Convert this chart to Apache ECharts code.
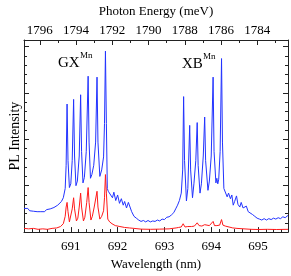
<!DOCTYPE html>
<html>
<head>
<meta charset="utf-8">
<script src="https://cdn.jsdelivr.net/npm/echarts@6/dist/echarts.min.js"></script>
<style>html,body{margin:0;padding:0;background:#fff;}#c{width:291px;height:276px;}</style>
</head>
<body>
<div id="c"></div>
<script>
// Wavelength range (nm)
const lambdaMin = 690.0;
const lambdaMax = 695.64;
const wavelengthTicks = [691, 692, 693, 694, 695];
const energyTicks = [1796, 1794, 1792, 1790, 1788, 1786, 1784];

// Blue trace (upper spectrum)
const blueWavelength = [
690.00,690.04,690.08,690.12,690.16,690.20,690.24,690.28,690.32,690.36,690.40,690.44,690.48,690.52,690.56,690.60,690.64,690.68,690.72,690.76,690.80,690.84,690.88,
690.90,690.92,690.94,690.97,691.00,691.03,691.06,691.08,691.11,691.14,691.18,691.21,691.23,691.26,691.29,691.33,691.37,691.39,691.42,691.45,691.49,691.53,691.56,691.58,691.62,691.66,691.70,691.72,691.74,691.76,691.78,
691.80,691.84,691.89,691.92,691.96,692.00,692.04,692.08,692.12,692.15,692.19,692.23,692.26,692.30,692.35,692.40,
692.45,692.50,692.55,692.60,692.65,692.70,692.75,692.80,692.85,692.90,692.95,693.00,693.05,
693.10,693.15,693.20,693.24,693.28,693.32,693.36,693.39,693.41,693.43,693.47,693.50,693.54,693.56,693.60,693.63,693.67,693.70,693.72,693.76,693.79,693.83,693.86,693.88,693.93,693.96,694.00,694.04,694.06,694.10,694.12,694.14,694.16,694.19,694.22,694.24,694.27,
694.30,694.34,694.37,694.41,694.44,694.47,694.50,694.54,694.57,694.61,694.64,694.68,694.71,694.75,694.79,694.83,694.88,694.93,694.98,695.03,695.08,695.13,695.18,695.23,695.28,695.33,695.38,695.43,695.48,695.53,695.58,695.64
];
const blueIntensity = [
2.85,2.65,2.85,2.6,2.8,2.55,2.75,2.5,2.7,2.5,2.7,2.5,2.72,2.55,2.8,2.65,2.95,2.85,3.2,3.3,3.6,4.0,5.0,
7.5,14.1,8.0,5.1,5.5,8.0,14.6,8.5,5.3,5.8,8.5,15.1,9.0,5.6,6.2,9.0,17.1,10.0,6.1,6.5,7.5,10.0,17.0,10.0,6.3,7.0,8.4,12.0,19.8,12.0,5.0,
4.7,4.9,4.0,4.6,3.7,4.3,3.4,3.9,3.2,3.6,2.9,3.5,3.6,2.5,2.0,1.8,
1.6,1.45,1.55,1.4,1.55,1.4,1.5,1.45,1.6,1.5,1.7,1.65,1.9,
1.95,2.15,2.4,2.8,3.2,3.7,4.5,7.0,14.9,8.0,3.65,5.0,11.8,7.0,4.0,5.5,8.0,12.1,7.5,4.5,5.5,8.5,12.7,8.0,4.8,5.8,8.5,17.0,9.0,5.6,6.1,5.5,6.0,9.0,19.0,10.0,5.0,
4.9,4.1,4.5,3.9,4.3,3.2,3.6,4.2,3.3,3.0,3.5,2.9,3.0,3.1,2.5,2.6,2.2,2.0,1.8,1.7,1.6,1.75,1.6,1.75,1.65,1.8,1.7,1.85,1.75,1.95,1.85,2.1
];

// Red trace (lower spectrum)
const redWavelength = [
690.00,690.10,690.20,690.30,690.40,690.50,690.60,690.70,690.78,690.84,690.88,690.90,690.92,690.94,690.97,691.00,691.03,691.06,691.08,691.12,691.15,691.18,691.21,691.23,691.27,691.30,691.34,691.37,691.39,691.43,691.46,691.50,691.56,691.58,691.62,691.66,691.70,691.72,691.74,691.76,691.79,691.83,691.88,691.95,692.05,692.15,692.25,692.35,
692.50,692.70,692.90,693.10,693.25,693.30,693.36,693.40,693.44,693.50,693.54,693.58,693.64,693.70,693.74,693.80,693.86,693.90,693.96,694.00,694.04,694.07,694.12,694.18,694.22,694.25,694.30,694.38,694.46,694.55,694.70,694.85,695.00,695.20,695.40,695.64
];
const redIntensity = [
0.7,0.65,0.7,0.6,0.65,0.6,0.7,0.75,0.9,1.2,2.0,3.0,3.5,2.5,1.4,1.6,2.8,4.0,2.8,1.5,1.8,3.0,4.5,3.0,1.5,1.9,3.5,5.1,3.5,1.6,2.0,3.0,4.7,3.0,1.7,2.0,2.6,4.0,6.5,4.5,1.7,1.4,1.2,1.0,0.9,0.8,0.75,0.7,
0.62,0.6,0.62,0.65,0.75,0.8,0.85,1.2,0.85,0.9,1.05,0.9,0.95,1.3,1.0,0.95,1.1,0.95,1.0,1.05,1.45,1.0,1.0,1.05,1.65,1.05,0.95,0.85,0.75,0.7,0.65,0.6,0.58,0.6,0.58,0.6
];

const HC = 1239841.98; // meV*nm
const eMax = HC / lambdaMin;
const eMin = HC / lambdaMax;

const blueData = blueWavelength.map((w, i) => [w, blueIntensity[i]]);
const redData = redWavelength.map((w, i) => [w, redIntensity[i]]);

const serif = '"Liberation Serif", "DejaVu Serif", serif';
const axisColor = '#222';

const chart = echarts.init(document.getElementById('c'), null, {renderer: 'canvas'});
chart.setOption({
  animation: false,
  backgroundColor: '#fff',
  grid: {left: 17, right: 1, top: 33, bottom: 36, containLabel: false},
  xAxis: [
    {
      type: 'value', position: 'bottom', min: lambdaMin, max: lambdaMax, interval: 1,
      name: 'Wavelength (nm)', nameLocation: 'middle', nameGap: 20,
      nameTextStyle: {fontFamily: serif, fontSize: 13, color: '#000'},
      axisLine: {show: true, onZero: false, lineStyle: {color: axisColor, width: 1}},
      axisTick: {show: true, inside: true, length: 5, lineStyle: {color: axisColor}},
      minorTick: {show: true, splitNumber: 6, length: 3, lineStyle: {color: axisColor}},
      splitLine: {show: false},
      axisLabel: {fontFamily: serif, fontSize: 13, color: '#000', margin: 8,
        formatter: v => wavelengthTicks.includes(Math.round(v * 1000) / 1000) ? String(v) : ''}
    },
    {
      type: 'value', position: 'top', inverse: true, min: eMin, max: eMax, splitNumber: 7,
      name: 'Photon Energy (meV)', nameLocation: 'middle', nameGap: 22,
      nameTextStyle: {fontFamily: serif, fontSize: 13, color: '#000'},
      axisLine: {show: true, onZero: false, lineStyle: {color: axisColor, width: 1}},
      axisTick: {show: true, inside: true, length: 5, lineStyle: {color: axisColor}},
      minorTick: {show: true, splitNumber: 2, length: 3, lineStyle: {color: axisColor}},
      splitLine: {show: false},
      axisLabel: {fontFamily: serif, fontSize: 13, color: '#000', margin: 3,
        formatter: v => { const r = Math.round(v); return (Math.abs(v - r) < 1e-6 && energyTicks.includes(r)) ? String(r) : ''; }}
    }
  ],
  yAxis: [
    {
      type: 'value', position: 'left', min: 0.3, max: 21, interval: 5,
      name: 'PL Intensity', nameLocation: 'middle', nameGap: 2,
      nameTextStyle: {fontFamily: serif, fontSize: 14, color: '#000'},
      axisLine: {show: true, onZero: false, lineStyle: {color: axisColor, width: 1}},
      axisTick: {show: true, inside: true, length: 5, lineStyle: {color: axisColor}},
      minorTick: {show: true, splitNumber: 5, length: 3, lineStyle: {color: axisColor}},
      splitLine: {show: false},
      axisLabel: {show: false}
    },
    {
      type: 'value', position: 'right', min: 0.3, max: 21, interval: 5,
      axisLine: {show: true, onZero: false, lineStyle: {color: axisColor, width: 1}},
      axisTick: {show: true, inside: true, length: 5, lineStyle: {color: axisColor}},
      minorTick: {show: true, splitNumber: 5, length: 3, lineStyle: {color: axisColor}},
      splitLine: {show: false},
      axisLabel: {show: false}
    }
  ],
  series: [
    {type: 'line', name: 'red', xAxisIndex: 0, yAxisIndex: 0, data: redData, showSymbol: false, symbol: 'none',
     lineStyle: {color: '#ff1a1a', width: 1}, z: 2},
    {type: 'line', name: 'blue', xAxisIndex: 0, yAxisIndex: 0, data: blueData, showSymbol: false, symbol: 'none',
     lineStyle: {color: '#2233ff', width: 1}, z: 3}
  ],
  graphic: [
    {type: 'text', left: 58, top: 56, style: {text: 'GX', font: '15px ' + serif, fill: '#000'}},
    {type: 'text', left: 80, top: 51, style: {text: 'Mn', font: '9px ' + serif, fill: '#000'}},
    {type: 'text', left: 182, top: 57, style: {text: 'XB', font: '15px ' + serif, fill: '#000'}},
    {type: 'text', left: 203, top: 52, style: {text: 'Mn', font: '9px ' + serif, fill: '#000'}}
  ]
});
</script>
</body>
</html>
